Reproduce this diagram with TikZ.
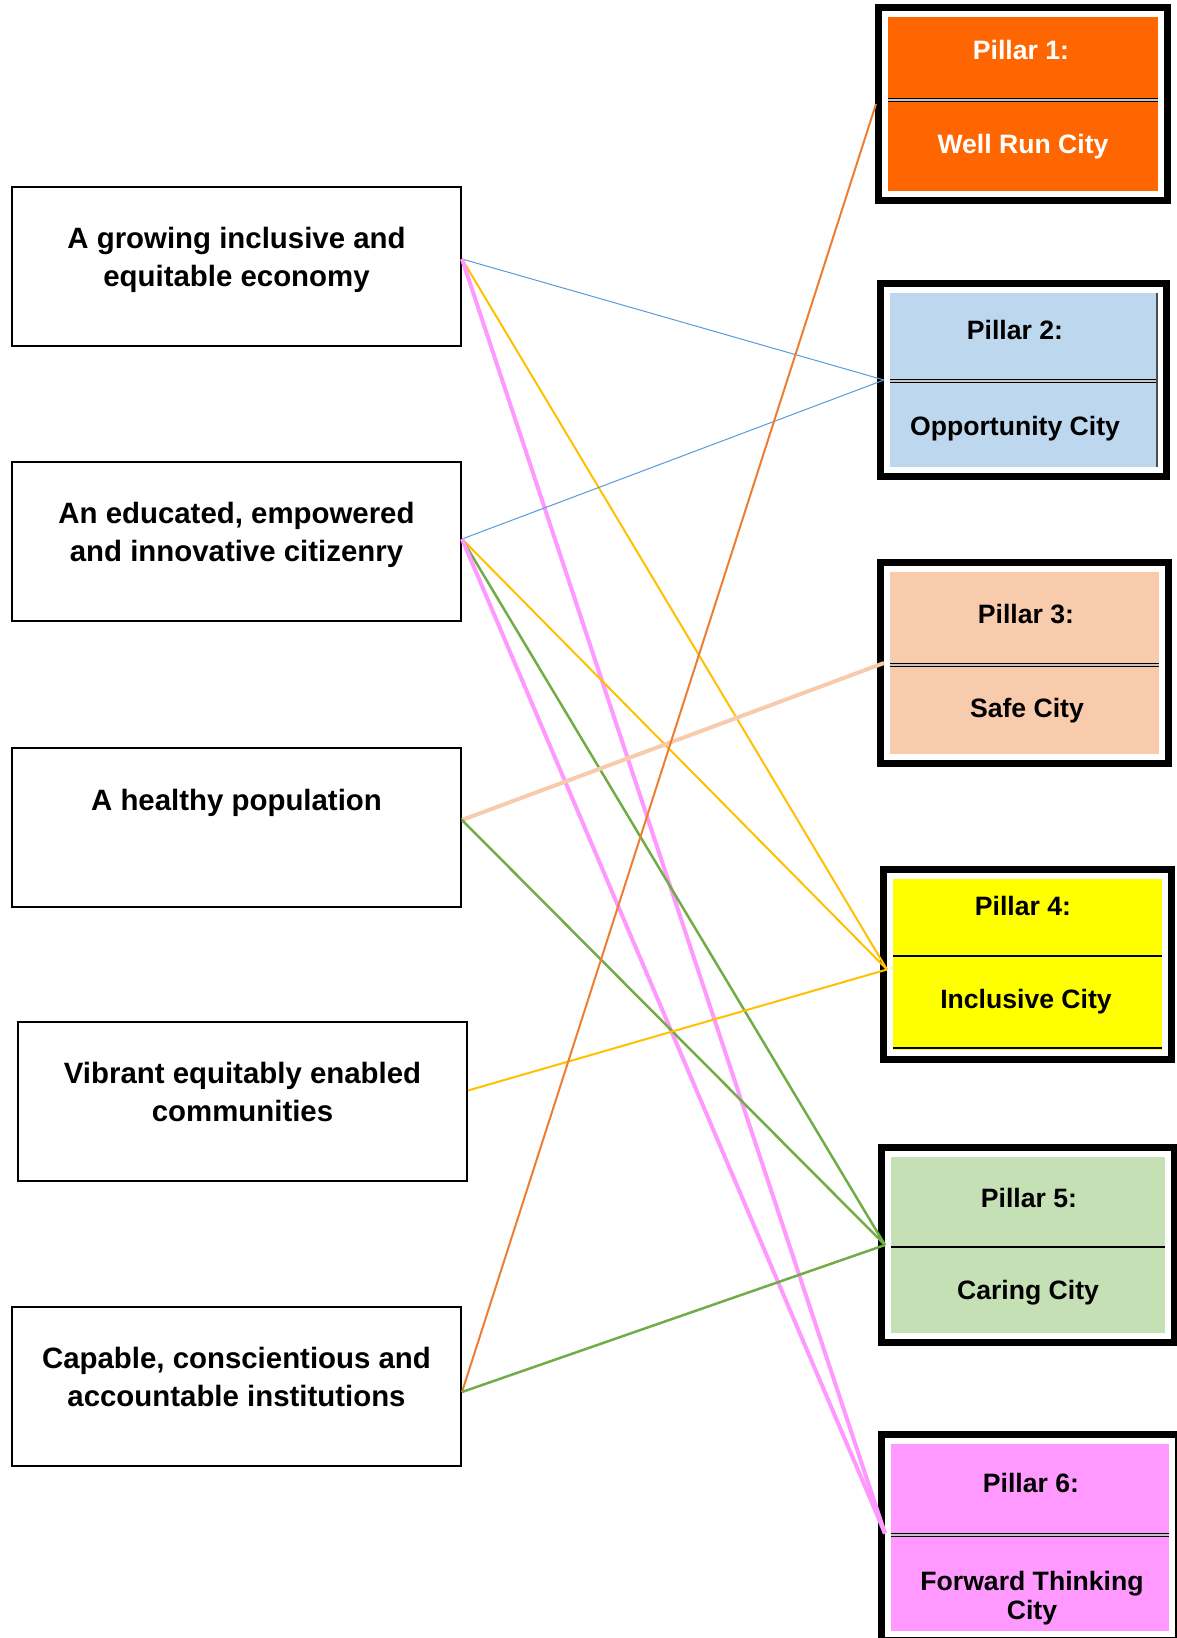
\documentclass[tikz,border=0pt]{standalone}
\usepackage{fontspec}
\setmainfont{Liberation Sans}
\usetikzlibrary{positioning}

\definecolor{pillarone}{HTML}{FF6600}
\definecolor{pillartwo}{HTML}{BDD7EE}
\definecolor{pillarthree}{HTML}{F8CBAD}
\definecolor{pillarfour}{HTML}{FFFF00}
\definecolor{pillarfive}{HTML}{C5E0B4}
\definecolor{pillarsix}{HTML}{FF99FF}
\definecolor{wellline}{HTML}{ED7D31}
\definecolor{oppline}{HTML}{5B9BD5}
\definecolor{incline}{HTML}{FFC000}
\definecolor{careline}{HTML}{70AD47}

\tikzset {
    goal/.style={draw, line width=2pt, minimum width=449pt, minimum height=159pt},
    goaltext/.style={align=center, inner sep=0pt, font=\bfseries\fontsize{29.4}{38}\selectfont},
    pillar/.style={draw=white, line width=6pt, preaction={draw=black, line width=20pt}},
    pillartext/.style={anchor=base, inner sep=0pt, font=\bfseries\fontsize{26.6}{29}\selectfont},
    divider/.style={line width=1.5pt, double=gray!45, double distance=1.5pt},
    well/.style={wellline, line width=2pt},
    opp/.style={oppline, line width=1pt},
    safe/.style={pillarthree, line width=4pt},
    inc/.style={incline, line width=2pt},
    care/.style={careline, line width=2.5pt},
    forward/.style={pillarsix, line width=4pt}
}

\begin{document}
\begin{tikzpicture}[x=1pt, y=-1pt]
    \useasboundingbox (0,0) rectangle (1177,1638);

    % outcomes on the left
    \node[goal] (g1) at (236.5,266.5) {};
    \node[goal] (g2) at (236.5,541) {};
    \node[goal] (g3) at (236.5,827.5) {};
    \node[goal] (g4) at (242.5,1101.5) {};
    \node[goal] (g5) at (236.5,1386.5) {};

    \node[goaltext, below=41pt of g1.north] (g1t) {A growing inclusive and\\equitable economy};
    \node[goaltext, below=41pt of g2.north] (g2t) {An educated, empowered\\and innovative citizenry};
    \node[goaltext, below=42pt of g3.north] (g3t) {A healthy population};
    \node[goaltext, below=41pt of g4.north] (g4t) {Vibrant equitably enabled\\communities};
    \node[goaltext, below=41pt of g5.north] (g5t) {Capable, conscientious and\\accountable institutions};

    % pillars on the right
    \node[pillar, fill=pillarone, minimum width=276pt, minimum height=180pt] (p1) at (1023,104) {};
    \node[pillar, fill=pillartwo, minimum width=273pt, minimum height=180pt] (p2) at (1023.5,380) {};
    \node[pillar, fill=pillarthree, minimum width=275pt, minimum height=188pt] (p3) at (1024.5,663) {};
    \node[pillar, fill=pillarfour, minimum width=275pt, minimum height=177pt] (p4) at (1027.5,964.5) {};
    \node[pillar, fill=pillarfive, minimum width=280pt, minimum height=182pt] (p5) at (1028,1245) {};
    \node[pillar, fill=pillarsix, minimum width=284pt, minimum height=193pt] (p6) at (1030,1537.5) {};

    \draw[divider] (888,100) -- (1158,100);
    \draw[divider] (890,381) -- (1157,381);
    \draw[divider] (890,665) -- (1159,665);
    \draw[line width=1.8pt] (893,956) -- (1162,956);
    \draw[line width=1.8pt] (893,1048) -- (1162,1048);
    \draw[line width=1.8pt] (891,1247) -- (1165,1247);
    \draw[divider] (891,1535) -- (1169,1535);
    \draw[black!70, line width=1.5pt] (1157,293) -- (1157,467);

    \node[pillartext, text=white] (p1t) at (1021,59) {Pillar 1:};
    \node[pillartext, text=white] (p1c) at (1023,153) {Well Run City};
    \node[pillartext] (p2t) at (1015,339) {Pillar 2:};
    \node[pillartext] (p2c) at (1015,435) {Opportunity City};
    \node[pillartext] (p3t) at (1026,623) {Pillar 3:};
    \node[pillartext] (p3c) at (1027,717) {Safe City};
    \node[pillartext] (p4t) at (1023,915) {Pillar 4:};
    \node[pillartext] (p4c) at (1026,1008) {Inclusive City};
    \node[pillartext] (p5t) at (1029,1207) {Pillar 5:};
    \node[pillartext] (p5c) at (1028,1299) {Caring City};
    \node[pillartext] (p6t) at (1031,1492) {Pillar 6:};
    \node[pillartext, align=center, anchor=north] (p6c) at (1032,1571) {Forward Thinking\\City};

    % links from outcomes to pillars
    \draw
    ([yshift=7.5pt]g1.east) edge[opp] (p2.west)
    ([yshift=7.5pt]g1.east) edge[inc] ([yshift=-5pt]p4.west)
    ([yshift=7.5pt]g1.east) edge[forward] ([yshift=4pt]p6.west)
    ([yshift=2pt]g2.east) edge[opp] (p2.west)
    ([yshift=2pt]g2.east) edge[inc] ([yshift=-5pt]p4.west)
    ([yshift=2pt]g2.east) edge[care] (p5.west)
    ([yshift=2pt]g2.east) edge[forward] ([yshift=4pt]p6.west)
    ([yshift=7.5pt]g3.east) edge[safe] (p3.west)
    ([yshift=7.5pt]g3.east) edge[care] (p5.west)
    ([yshift=11pt]g4.east) edge[inc] ([yshift=-5pt]p4.west)
    ([yshift=-5.5pt]g5.east) edge[well] ([xshift=-6pt]p1.west)
    ([yshift=-5.5pt]g5.east) edge[care] (p5.west);
\end{tikzpicture}
\end{document}
